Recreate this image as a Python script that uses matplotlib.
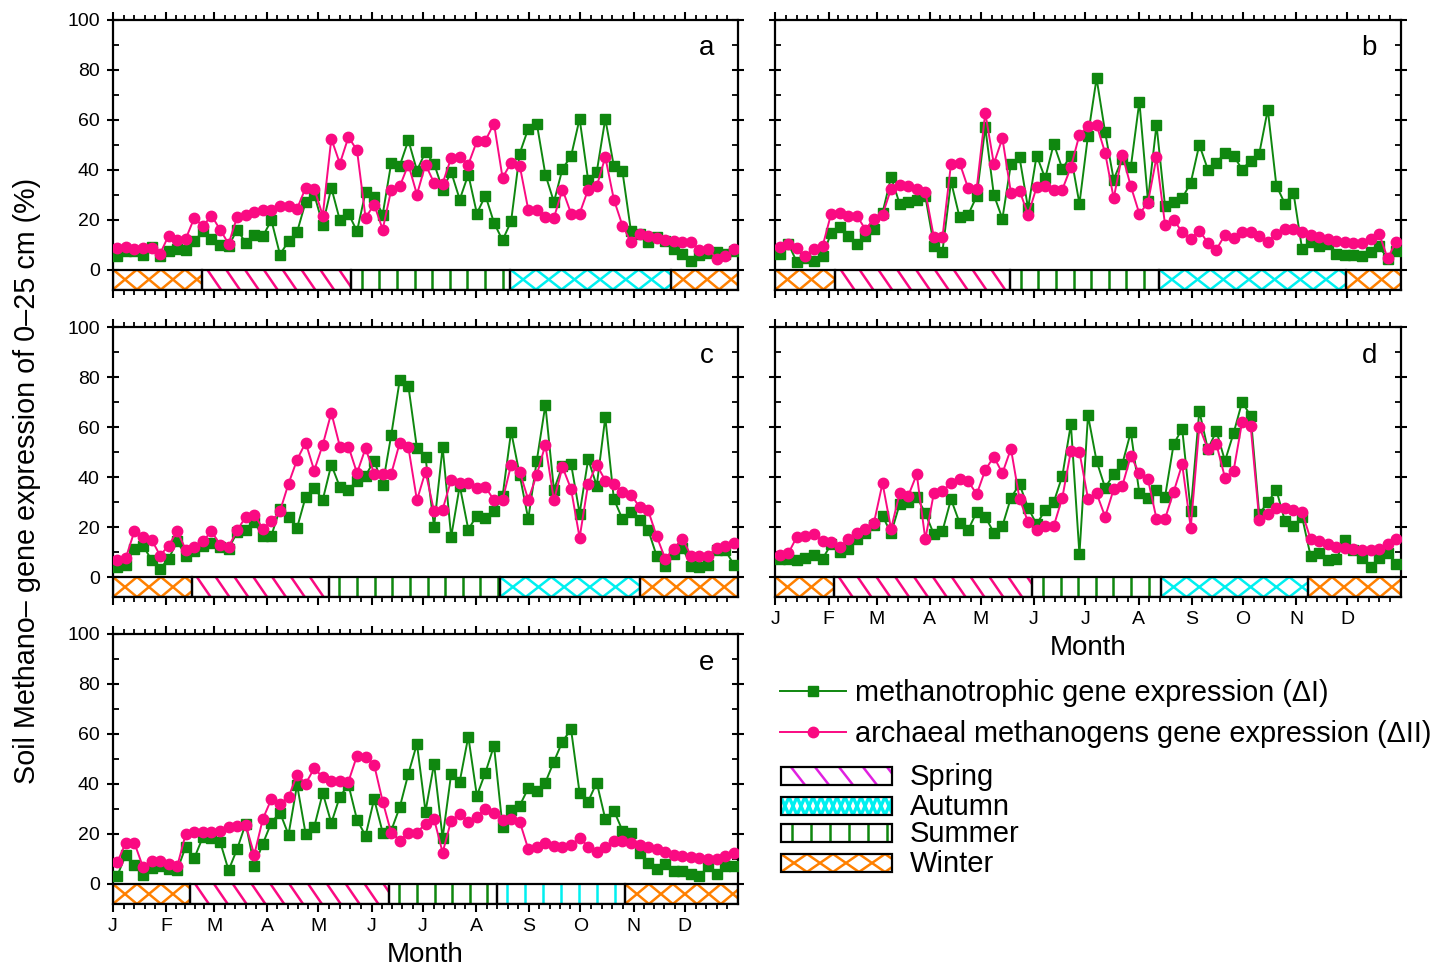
import numpy as np
import matplotlib
matplotlib.use("Agg")
import matplotlib.pyplot as plt
from matplotlib.patches import Rectangle
from matplotlib.ticker import FixedLocator

plt.rcParams['font.family'] = ['Liberation Sans', 'DejaVu Sans']

# sampling: one value every 5 days (day of year)
days = np.arange(73) * 5 + 2.5

month_start = [0, 31, 59, 90, 120, 151, 181, 212, 243, 273, 304, 334, 365]
month_lab = ['J', 'F', 'M', 'A', 'M', 'J', 'J', 'A', 'S', 'O', 'N', 'D']

# methanotrophic gene expression (dI) / archaeal methanogens (dII), %
meth_a = [5.6, 7.3, 7.5, 6, 9, 5.3, 7.3, 8.3, 8, 11.3, 15.3, 12.3, 10, 9.3, 16, 10.7, 14, 13.3, 19.7, 6,
          11.3, 15, 27, 30, 18, 32.7, 19.7, 22.4, 15.3, 31, 29, 22, 42.7, 41.6, 51.7, 39.6, 47, 42.4, 32, 39,
          28, 38, 22.4, 29.6, 18.7, 11.7, 19.3, 46.4, 56.3, 58.4, 38, 27, 40.3, 45.3, 60.3, 35.7, 39, 60.3, 41.3, 39.3,
          15.3, 14.4, 11, 13, 11.6, 8.3, 6.3, 3.3, 6, 6.5, 7, 6.4, 7.3]
arch_a = [8.7, 9, 8.3, 8.7, 8.5, 6.3, 13.6, 12, 12.3, 20.7, 17.3, 21.6, 16, 10.3, 21, 22, 23, 24, 23.7, 25.6,
          25.6, 24.3, 32.7, 32.3, 21.6, 52.3, 42.4, 53, 47.7, 20.7, 26, 16, 32, 33.3, 42, 30, 42, 34.7, 34.4, 44.7,
          45, 42, 51.3, 51.6, 58.4, 36.7, 42.7, 41.6, 24, 24, 21, 20.7, 32, 22.4, 22.4, 32, 33.3, 45, 28, 17.6,
          11, 14.3, 13.3, 12.7, 12, 11.3, 11, 11, 8, 8.3, 4.3, 5.3, 8.3]

meth_b = [6.3, 10.3, 2.9, 4.5, 3.6, 5.3, 14.7, 16.9, 13.6, 10.3, 13.3, 16.3, 22.7, 36.9, 26.3, 27.2, 28, 29.3, 9.6, 7.2,
          35.2, 20.9, 21.9, 29.3, 56.9, 29.9, 20.3, 42.3, 44.9, 24.5, 45.6, 36.5, 50.3, 40.3, 45.6, 26.3, 53.6, 76.5, 54.9, 36,
          44.3, 40.9, 67.2, 27.6, 57.9, 25.3, 27.2, 28.5, 34.7, 49.9, 40, 42.7, 46.7, 45.6, 40, 43.6, 46.3, 64, 33.6, 26.3,
          30.7, 8.3, 11.2, 9.3, 10.3, 6.3, 5.9, 5.9, 5.6, 6.9, 9.3, 4.3, 7.6]
arch_b = [8.9, 10.3, 8.5, 5.6, 8.3, 9.3, 22.3, 22.7, 21.6, 21.6, 16, 20.3, 21.9, 32.3, 33.9, 33.6, 32.3, 31.2, 12.9, 12.9,
          42.3, 42.7, 32.5, 32.3, 62.7, 42.3, 52.5, 30.7, 31.6, 21.9, 32.9, 33.6, 32, 32, 40.9, 53.9, 57.3, 57.9, 46.7, 28.5,
          45.9, 33.3, 22.3, 26.7, 44.9, 17.9, 20, 14.9, 12.3, 15.6, 10.7, 8, 13.9, 12.5, 15.2, 15.2, 13.3, 11.2, 14.3, 16.3,
          16.3, 15.2, 13.9, 12.9, 12.3, 11.6, 10.9, 10.7, 10.7, 12.3, 14.3, 4.5, 11.2]

meth_c = [4.1, 5, 11.3, 12.6, 6.8, 3.3, 7.3, 14.3, 8.4, 10.4, 12.4, 13.7, 12.1, 11.3, 17.9, 18.7, 21.9, 16.3, 16.6, 27.2,
          24, 19.7, 32, 35.6, 30.9, 44.9, 36, 34.9, 38.6, 40.5, 46.6, 36.9, 56.8, 79, 76.4, 51.5, 47.9, 20.1, 51.9, 16.1,
          36.5, 19, 24.6, 23.6, 26.3, 32.3, 58.2, 40.9, 23.2, 46.6, 68.8, 34.9, 44.5, 45.3, 25.4, 47.1, 36.5, 63.9, 31.2, 23.2,
          25.9, 23, 19, 8.4, 4.4, 9.4, 11.7, 4.6, 4.1, 5, 10.8, 10.8, 5]
arch_c = [7, 7.7, 18.3, 15.9, 15, 8.6, 12.6, 18.3, 11, 12.1, 14.3, 18.3, 13, 12.1, 18.7, 24, 25, 19.3, 22.3, 26.3,
          37.3, 46.9, 53.8, 42.6, 52.9, 65.7, 52.2, 52.2, 41.6, 51.5, 41.3, 41.3, 41.3, 53.8, 51.9, 30.7, 42.2, 26.3, 27, 38.9,
          37.8, 37.8, 35.6, 36, 30.7, 30.7, 44.9, 42.2, 30.9, 40.9, 52.9, 30.7, 44, 35.2, 15.7, 37.3, 44.9, 38.6, 37.3, 33.9,
          32.9, 28, 26.7, 16.3, 7.3, 11.3, 15.3, 8.6, 8.4, 8.4, 11.7, 12.6, 13.7]

meth_d = [7.3, 7.3, 6.8, 7.7, 8.7, 7.3, 13.1, 10, 11.3, 15.3, 17.5, 20.7, 24.4, 17.5, 29.1, 30, 32.1, 25.5, 17.1, 18.4,
          31.1, 21.7, 18.8, 26, 24.1, 17.7, 20.4, 31.7, 37.1, 27.7, 21.1, 26.8, 30, 40.4, 61.1, 9.1, 64.7, 46.4, 35.7, 41.1,
          45.1, 58, 33.5, 31.7, 34.8, 32.1, 53.1, 59.3, 26.4, 66.4, 51.1, 58.4, 46.4, 57.5, 70, 64.4, 25.1, 30, 34.8, 22.4,
          20.4, 24.1, 8.4, 9.5, 6.8, 7.1, 14.8, 10.8, 7.7, 4.1, 7.7, 9.5, 5.1]
arch_d = [8.7, 9.5, 16.1, 16.4, 17.1, 14.4, 14, 12.1, 15.1, 17.7, 19.1, 21.7, 37.5, 19.3, 33.5, 32.4, 41.1, 15.1, 33.7, 34.4,
          37.5, 39.1, 38.4, 33.1, 42.8, 48.1, 41.5, 51.3, 31.3, 22, 18.8, 20.4, 20.4, 31.7, 50.4, 50, 31.3, 33.5, 24.1, 35.1,
          36.4, 48.4, 41.5, 39.1, 23.3, 23.3, 34, 45.1, 19.7, 60.1, 51.1, 53.1, 39.7, 42.4, 62, 60.4, 22.8, 25.1, 27.7, 27.7,
          26.8, 26, 15.1, 14.4, 13.1, 12.1, 11.7, 11.3, 10.8, 10.8, 11.1, 13.1, 15.1]

meth_e = [3.3, 11.7, 7.7, 3.7, 6.4, 7.3, 6, 5.5, 15, 10.4, 18.8, 18.4, 17, 5.5, 14, 24.1, 7.3, 16.1, 24.6, 28.6,
          19.7, 39.7, 20.1, 22.8, 36.4, 24.4, 35, 39.7, 25.7, 19.3, 34, 20.6, 21.4, 30.8, 44.1, 56.1, 29, 48.1, 18.4, 44.1,
          41, 59, 35.3, 44.6, 55.3, 22.8, 29.7, 31.3, 38.3, 37.4, 40.6, 49, 57, 61.9, 36.4, 33, 40.6, 26, 29.4, 21.4,
          20.6, 12.4, 8.4, 6, 8.1, 5.1, 5.1, 4.1, 3.1, 7.1, 4.1, 7.3, 7.1]
arch_e = [8.7, 16.6, 16.4, 6.8, 9.1, 9.1, 8.1, 7.1, 20.1, 21, 21, 21, 21.4, 22.8, 23.3, 23.7, 11.7, 26, 34, 32.1,
          34.8, 43.7, 40.1, 46.3, 42.7, 41.4, 41.4, 41, 51.3, 51, 47.7, 33, 20.4, 17.4, 20.4, 20.6, 24.1, 26, 12.6, 25.4,
          28.1, 25, 27, 30, 28.6, 25.7, 26, 25, 14, 15, 16.6, 15.3, 15, 15.7, 18.4, 15, 13, 14.8, 17.4, 17.4,
          16.6, 15.7, 14.8, 14, 13, 11.7, 11.3, 10.8, 10.4, 10, 10, 11.3, 12.6]

# season start days: spring, summer, autumn, winter
seasons_a = [52, 139, 232, 326]
seasons_b = [35, 137, 224, 333]
seasons_c = [46, 126, 226, 308]
seasons_d = [34, 150, 225, 311]
seasons_e = [45, 161, 224, 299]

letters = ['a', 'b', 'c', 'd', 'e']

GREEN = '#0f870f'
PINK = '#fa0a82'
ORANGE = '#ff8000'
CYAN = '#00f0f0'
MAGENTA = '#e020e0'


def pattern(ax, x0, x1, y0, y1, kind, color, step, shift=0.0, lw=1.8):
    """fill the box [x0,x1]x[y0,y1] with a line pattern and draw a black frame"""
    clip = Rectangle((x0, y0), x1 - x0, y1 - y0, facecolor='none', edgecolor='none')
    ax.add_patch(clip)
    kw = dict(color=color, lw=lw, solid_capstyle='butt', zorder=2)
    arts = []
    if kind == 'v':
        for x in np.arange(x0 + step * 0.6, x1, step):
            arts += ax.plot([x, x], [y0, y1], **kw)
    elif kind == 'd':
        for x in np.arange(x0 - shift, x1 + step, step):
            arts += ax.plot([x, x + shift], [y1, y0], **kw)
    elif kind == 'x':
        xs = np.arange(x0, x1 + step, step / 2)
        odd = np.arange(len(xs)) % 2 == 0
        arts += ax.plot(xs, np.where(odd, y1, y0), **kw)
        arts += ax.plot(xs, np.where(odd, y0, y1), **kw)
    for a in arts:
        a.set_clip_path(clip)
    ax.add_patch(Rectangle((x0, y0), x1 - x0, y1 - y0, facecolor='none',
                           edgecolor='black', lw=1.6, zorder=3))


fig = plt.figure(figsize=(14.36, 9.69), dpi=100)

W = 625 / 1436
H = 270 / 969
pos = [(113 / 1436, 1 - 289.5 / 969), (775.5 / 1436, 1 - 289.5 / 969),
       (113 / 1436, 1 - 597 / 969), (775.5 / 1436, 1 - 597 / 969),
       (113 / 1436, 1 - 904 / 969)]

meths = [meth_a, meth_b, meth_c, meth_d, meth_e]
archs = [arch_a, arch_b, arch_c, arch_d, arch_e]
seasons = [seasons_a, seasons_b, seasons_c, seasons_d, seasons_e]

minor_x = []
for m in range(12):
    ln = month_start[m + 1] - month_start[m]
    minor_x += [month_start[m] + i * ln / 5 for i in range(1, 5)]

handles = None
for i in range(5):
    ax = fig.add_axes([pos[i][0], pos[i][1], W, H])
    l1, = ax.plot(days, meths[i], color=GREEN, lw=1.4, marker='s', ms=6.5, zorder=4,
                  label='methanotrophic gene expression (\u0394I)')
    l2, = ax.plot(days, archs[i], color=PINK, lw=1.4, marker='o', ms=7.5, zorder=5,
                  label='archaeal methanogens gene expression (\u0394II)')
    if handles is None:
        handles = [l1, l2]

    sp, su, au, wi = seasons[i]
    pattern(ax, 0, sp, -8, 0, 'x', ORANGE, 28)
    pattern(ax, sp, su, -8, 0, 'd', PINK, 11, shift=8)
    pattern(ax, su, au, -8, 0, 'v', GREEN, 10.3)
    if i == 4:
        pattern(ax, au, wi, -8, 0, 'v', CYAN, 10.5)
    else:
        pattern(ax, au, wi, -8, 0, 'x', CYAN, 30)
    pattern(ax, wi, 365, -8, 0, 'x', ORANGE, 28)

    ax.set_xlim(0, 365)
    ax.set_ylim(-8, 100)
    ax.set_yticks([0, 20, 40, 60, 80, 100])
    ax.yaxis.set_minor_locator(FixedLocator([10, 30, 50, 70, 90]))
    ax.set_xticks(month_start[:12])
    ax.xaxis.set_minor_locator(FixedLocator(minor_x))
    ax.tick_params(axis='y', which='major', direction='inout', length=9, width=1.5,
                   right=True, labelsize=14, pad=5)
    ax.tick_params(axis='y', which='minor', direction='in', length=4, width=1.3, right=True)
    ax.tick_params(axis='x', which='major', direction='out', length=6, width=1.5,
                   top=True, labelsize=14, pad=4)
    ax.tick_params(axis='x', which='minor', direction='out', length=3.5, width=1.3, top=True)
    for s in ax.spines.values():
        s.set_linewidth(1.6)

    if i in (3, 4):
        ax.set_xticklabels(month_lab)
        ax.set_xlabel('Month', fontsize=20, labelpad=5)
    else:
        ax.set_xticklabels([])
    if i in (1, 3):
        ax.set_yticklabels([])

    ax.text(0.95, 0.894, letters[i], transform=ax.transAxes, ha='center', va='center', fontsize=20)

fig.text(27 / 1436, 1 - 481 / 969, 'Soil Methano\u2013 gene expression of 0\u201325 cm (%)',
         rotation=90, ha='center', va='center', fontsize=20.7)

fig.legend(handles=handles, loc='upper left', bbox_to_anchor=(780 / 1436, 1 - 679 / 969),
           frameon=False, fontsize=20.8, handlelength=2.3, handletextpad=0.3,
           labelspacing=0.45, borderpad=0, borderaxespad=0)

# season key
axl = fig.add_axes([770 / 1436, 1 - 890 / 969, 666 / 1436, 220 / 969])
axl.set_xlim(770, 1436)
axl.set_ylim(890, 670)
axl.axis('off')
key = [('Spring', 767, 785, 'd', MAGENTA, 24, 14, 1.8),
       ('Autumn', 797, 815, 'x', CYAN, 16, 0, 2.4),
       ('Summer', 824, 842, 'v', GREEN, 19, 0, 1.8),
       ('Winter', 854, 872, 'x', ORANGE, 52, 0, 1.8)]
for name, ytop, ybot, kind, col, step, shift, lw in key:
    pattern(axl, 781, 892, ybot, ytop, kind, col, step, shift=shift, lw=lw)
    axl.text(910, (ytop + ybot) / 2 + 1, name, ha='left', va='center', fontsize=21)

fig.savefig('out.png', dpi=100)
